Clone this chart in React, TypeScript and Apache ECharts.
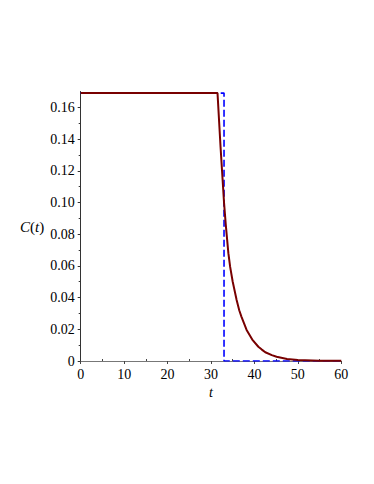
import React, { useEffect, useRef } from "react";
import * as echarts from "echarts";

// time values and concentration C(t) (solid dark red curve)
const curveT = [0, 31.5, 32.2, 33.0, 33.4, 34.0, 34.4, 35.0, 35.9, 36.5, 37.0, 38.2, 39.5, 40.9, 41.7, 42.5, 44.0, 45.1, 47.5, 50, 55, 60];
const curveC = [0.169, 0.169, 0.135, 0.1, 0.086, 0.068, 0.0595, 0.05, 0.0385, 0.032, 0.028, 0.0196, 0.0135, 0.009, 0.0072, 0.0055, 0.0037, 0.0027, 0.0013, 0.0007, 0.0002, 0.0001];

// blue dashed step function
const stepT = [0, 33, 33, 60];
const stepC = [0.169, 0.169, 0, 0];

const xMajorTicks = [0, 10, 20, 30, 40, 50, 60];
const xMinorTicks = [5, 15, 25, 35, 45, 55];
const yMajorTicks = [0, 0.02, 0.04, 0.06, 0.08, 0.1, 0.12, 0.14, 0.16];
const yMinorTicks = [0.01, 0.03, 0.05, 0.07, 0.09, 0.11, 0.13, 0.15];

const FONT = "'Liberation Serif', 'DejaVu Serif', 'Times New Roman', serif";

export default function App() {
  const ref = useRef<HTMLDivElement>(null);
  useEffect(() => {
    if (!ref.current) return;
    const chart = echarts.init(ref.current, undefined, { renderer: "svg" });
    const grid = { left: 80.7, right: 32.7, top: 91.5, bottom: 123, containLabel: false };
    const xBase = { type: "value", min: 0, max: 60, gridIndex: 0, splitLine: { show: false } };
    const yBase = { type: "value", min: 0, max: 0.17, gridIndex: 0, splitLine: { show: false } };
    chart.setOption({
      animation: false,
      backgroundColor: "#ffffff",
      textStyle: { fontFamily: FONT },
      grid,
      xAxis: [
        {
          ...xBase,
          position: "bottom",
          axisLine: { show: true, onZero: false, lineStyle: { color: "#777", width: 1 } },
          axisTick: { show: true, length: 3, lineStyle: { color: "#444" }, customValues: xMajorTicks },
          axisLabel: {
            show: true, margin: 6, color: "#000", fontFamily: FONT, fontSize: 14,
            customValues: xMajorTicks, formatter: (v: number) => String(v),
          },
          name: "t",
          nameLocation: "middle",
          nameGap: 20,
          nameTextStyle: { fontFamily: FONT, fontSize: 14, fontStyle: "italic", color: "#000" },
        },
        {
          ...xBase,
          position: "bottom",
          axisLine: { show: false, onZero: false },
          axisTick: { show: true, inside: true, length: 2, lineStyle: { color: "#444" }, customValues: xMinorTicks },
          axisLabel: { show: false },
        },
      ],
      yAxis: [
        {
          ...yBase,
          position: "left",
          axisLine: { show: true, onZero: false, lineStyle: { color: "#333", width: 1 } },
          axisTick: { show: true, length: 3, lineStyle: { color: "#333" }, customValues: yMajorTicks },
          axisLabel: {
            show: true, margin: 6, color: "#000", fontFamily: FONT, fontSize: 14,
            customValues: yMajorTicks,
            formatter: (v: number) => (v === 0 ? "0" : v.toFixed(2)),
          },
        },
        {
          ...yBase,
          position: "left",
          axisLine: { show: false, onZero: false },
          axisTick: { show: true, length: 2, lineStyle: { color: "#333" }, customValues: yMinorTicks },
          axisLabel: { show: false },
        },
      ],
      graphic: [
        {
          type: "text",
          left: 20,
          top: 219,
          style: {
            text: "{i|C}({i|t})",
            fontFamily: FONT,
            fontSize: 15,
            fill: "#000",
            rich: {
              i: { fontFamily: FONT, fontSize: 15, fontStyle: "italic", fill: "#000" },
            },
          },
        },
      ],
      series: [
        {
          type: "line",
          xAxisIndex: 0,
          yAxisIndex: 0,
          data: stepT.map((t, i) => [t, stepC[i]]),
          showSymbol: false,
          symbol: "none",
          lineStyle: { color: "#0000ff", width: 1.6, type: [7, 3] },
          z: 2,
        },
        {
          type: "line",
          xAxisIndex: 0,
          yAxisIndex: 0,
          data: curveT.map((t, i) => [t, curveC[i]]),
          showSymbol: false,
          symbol: "none",
          lineStyle: { color: "#780000", width: 2 },
          z: 3,
        },
      ],
    });
    return () => chart.dispose();
  }, []);
  return (
    <div
      ref={ref}
      style={{ position: "fixed", left: 0, top: 0, width: 374, height: 484, background: "#fff" }}
    />
  );
}
